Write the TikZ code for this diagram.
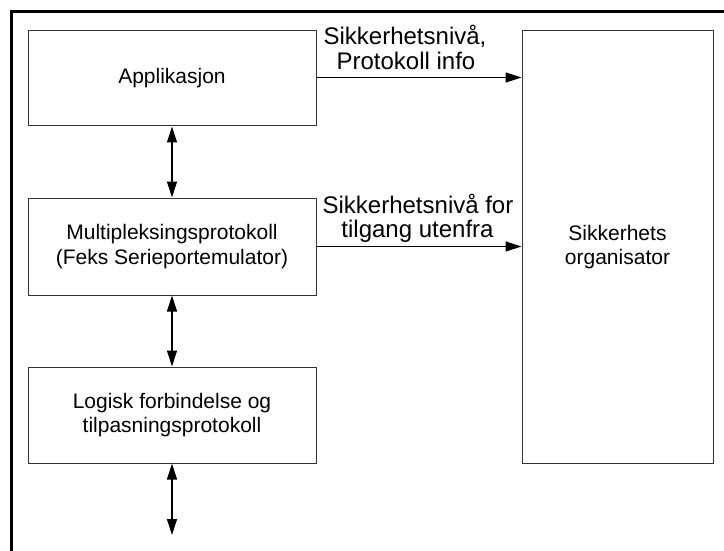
\documentclass[tikz,border=0pt]{standalone}
\usepackage{fontspec}
\setmainfont{Liberation Sans}
\usetikzlibrary{arrows.meta}
\begin{document}
\begin{tikzpicture}[x=1pt,y=-1pt,
  layerbox/.style={draw=black!80, line width=1pt, fill=white, align=center,
    font=\fontsize{21}{24.5}\selectfont, inner sep=0pt},
  flow/.style={line width=1.2pt, {Triangle[length=16pt,width=10pt]}-{Triangle[length=16pt,width=10pt]}},
  flowto/.style={line width=1.2pt, -{Triangle[length=16pt,width=10pt]}},
  flowlabel/.style={font=\fontsize{24}{26}\selectfont, anchor=base, inner sep=0pt}]
  \useasboundingbox (0,0) rectangle (724,551);
  \fill[white] (0,0) rectangle (724,551);
  % outer frame (open to the right and bottom)
  \draw[line width=2.7pt] (11.3,551) -- (11.3,11.3) -- (724,11.3);

  % protocol layers
  \node[layerbox, minimum width=288, minimum height=95] (app) at (172,78.5) {Applikasjon};
  \node[layerbox, minimum width=288, minimum height=97] (mux) at (172,246.5)
    {Multipleksingsprotokoll\\(Feks Serieportemulator)};
  \node[layerbox, minimum width=288, minimum height=96] (l2cap) at (172,415)
    {Logisk forbindelse og\\tilpasningsprotokoll};
  \node[layerbox, minimum width=191, minimum height=432] (sec) at (617.5,247)
    {Sikkerhets\\organisator};

  % vertical links between layers
  \draw[flow] (app.south) -- (mux.north);
  \draw[flow] (mux.south) -- (l2cap.north);
  \coordinate (below) at (172,535);
  \draw[flow] (l2cap.south) -- (below);

  % links to the security manager
  \draw[flowto] ([yshift=1pt]app.east) -- ([yshift=1pt]app.east -| sec.west);
  \draw[flowto] (mux.east) -- (mux.east -| sec.west);

  \node[flowlabel] (lblA) at (405,45) {Sikkerhetsnivå,};
  \node[flowlabel] (lblB) at (406,70) {Protokoll info};
  \node[flowlabel] (lblC) at (418,213) {Sikkerhetsnivå for};
  \node[flowlabel] (lblD) at (417.5,237) {tilgang utenfra};
\end{tikzpicture}
\end{document}
